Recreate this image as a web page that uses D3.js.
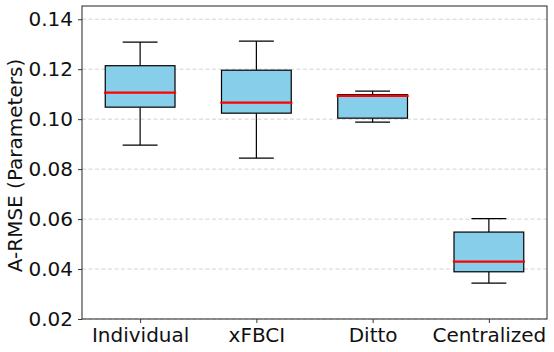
<!DOCTYPE html>
<html>
<head>
<meta charset="utf-8">
<script src="https://cdn.jsdelivr.net/npm/d3@7"></script>
<style>
  body { margin: 0; background: #fff; }
  text { font-family: "DejaVu Sans", sans-serif; }
</style>
</head>
<body>
<div id="vis"></div>
<script>
// data
const categories = ["Individual", "xFBCI", "Ditto", "Centralized"];
const whiskerLow = [0.0896, 0.0844, 0.0988, 0.0344];
const q1 = [0.1048, 0.1024, 0.1004, 0.0389];
const median = [0.1106, 0.1066, 0.1093, 0.0430];
const q3 = [0.1214, 0.1196, 0.1098, 0.0548];
const whiskerHigh = [0.1308, 0.1312, 0.1112, 0.0602];
const yTicks = [0.02, 0.04, 0.06, 0.08, 0.10, 0.12, 0.14];

const WIDTH = 554, HEIGHT = 352;
const MARGINS = {left: 82, right: 7, top: 6, bottom: 33};
const VIS_W = WIDTH - MARGINS.left - MARGINS.right;
const VIS_H = HEIGHT - MARGINS.top - MARGINS.bottom;

const svg = d3.select("#vis").append("svg")
  .attr("width", WIDTH).attr("height", HEIGHT);
const g = svg.append("g")
  .attr("transform", `translate(${MARGINS.left},${MARGINS.top})`);

const x = d3.scaleLinear().domain([0.5, 4.5]).range([0, VIS_W]);
const y = d3.scaleLinear().domain([0.02, 0.1453]).range([VIS_H, 0]);
const unit = x(1) - x(0);

// grid
g.selectAll(".grid").data(yTicks).enter().append("line")
  .attr("x1", 0).attr("x2", VIS_W)
  .attr("y1", d => y(d)).attr("y2", d => y(d))
  .attr("stroke", "#c8c8c8").attr("stroke-width", 0.8)
  .attr("stroke-dasharray", "4,2.5");

const boxes = categories.map((c, i) => ({
  c, pos: i + 1, lo: whiskerLow[i], q1: q1[i], med: median[i], q3: q3[i], hi: whiskerHigh[i]
}));

const bg = g.selectAll(".box").data(boxes).enter().append("g");
// whiskers
bg.append("line")
  .attr("x1", d => x(d.pos)).attr("x2", d => x(d.pos))
  .attr("y1", d => y(d.q3)).attr("y2", d => y(d.hi))
  .attr("stroke", "#000").attr("stroke-width", 1.2);
bg.append("line")
  .attr("x1", d => x(d.pos)).attr("x2", d => x(d.pos))
  .attr("y1", d => y(d.q1)).attr("y2", d => y(d.lo))
  .attr("stroke", "#000").attr("stroke-width", 1.2);
// caps
["hi", "lo"].forEach(k => {
  bg.append("line")
    .attr("x1", d => x(d.pos - 0.15)).attr("x2", d => x(d.pos + 0.15))
    .attr("y1", d => y(d[k])).attr("y2", d => y(d[k]))
    .attr("stroke", "#000").attr("stroke-width", 1.2);
});
// box
bg.append("rect")
  .attr("x", d => x(d.pos - 0.3))
  .attr("y", d => y(d.q3))
  .attr("width", 0.6 * unit)
  .attr("height", d => y(d.q1) - y(d.q3))
  .attr("fill", "#87ceeb").attr("stroke", "#000").attr("stroke-width", 1.2);
// median
bg.append("line")
  .attr("x1", d => x(d.pos - 0.31)).attr("x2", d => x(d.pos + 0.31))
  .attr("y1", d => y(d.med)).attr("y2", d => y(d.med))
  .attr("stroke", "#ff0000").attr("stroke-width", 2.3);

// axes
const yAxis = g.append("g")
  .call(d3.axisLeft(y).tickValues(yTicks).tickFormat(d3.format(".2f")).tickSize(4).tickPadding(5));
const xAxis = g.append("g")
  .attr("transform", `translate(0,${VIS_H})`)
  .call(d3.axisBottom(x).tickValues([1, 2, 3, 4]).tickFormat((d, i) => categories[i]).tickSize(4).tickPadding(5));
[xAxis, yAxis].forEach(a => {
  a.attr("font-size", null).attr("font-family", null);
  a.select(".domain").remove();
  a.selectAll("line").attr("stroke", "#222").attr("stroke-width", 0.9);
  a.selectAll("text").style("font-size", "20px").attr("fill", "#111")
    .style("font-family", "'DejaVu Sans', sans-serif");
});

// frame
g.append("rect")
  .attr("width", VIS_W).attr("height", VIS_H)
  .attr("fill", "none").attr("stroke", "#222").attr("stroke-width", 1);

// y label
svg.append("text")
  .attr("transform", `translate(22,${MARGINS.top + VIS_H / 2 + 3}) rotate(-90)`)
  .attr("text-anchor", "middle")
  .style("font-size", "20px").attr("fill", "#111")
  .text("A-RMSE (Parameters)");
</script>
</body>
</html>
